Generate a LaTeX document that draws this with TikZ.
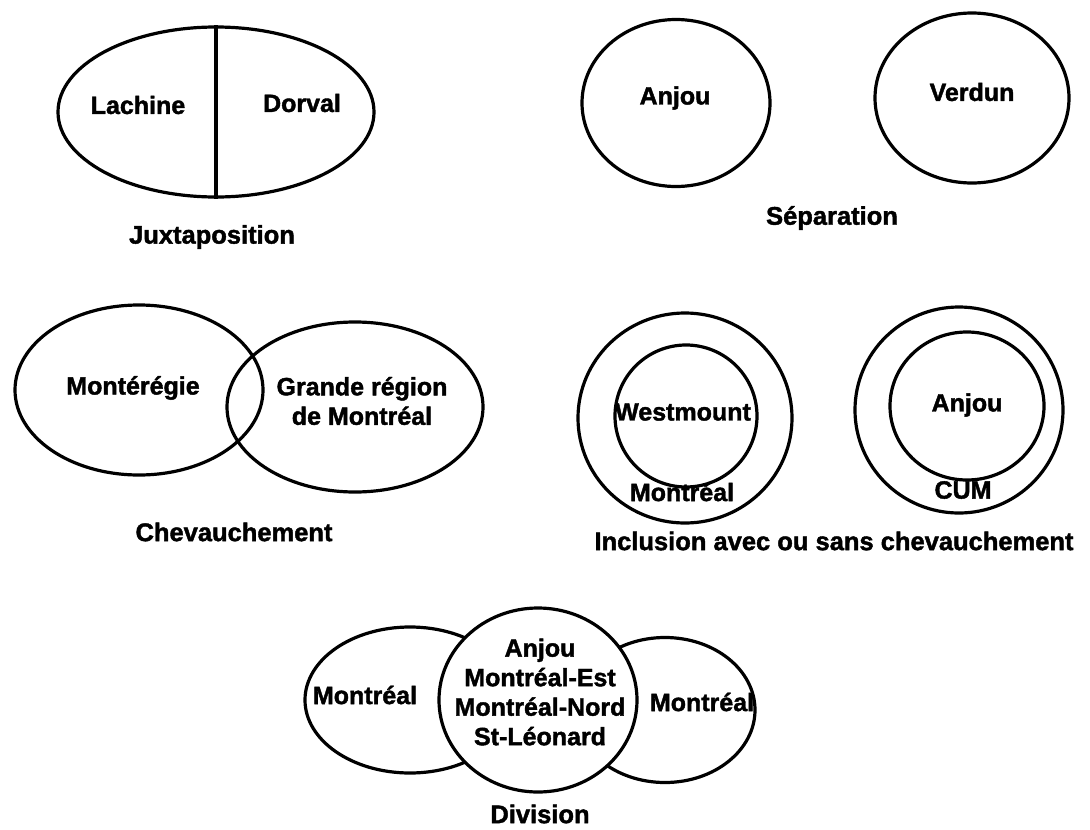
\documentclass[tikz,border=0pt]{standalone}
\usepackage{fontspec}
\setmainfont{Liberation Sans}[BoldFeatures={FakeBold=1.6}]
\usetikzlibrary{shapes.geometric}
\begin{document}
\begin{tikzpicture}[x=1pt,y=-1pt,
  ell/.style n args={2}{ellipse, draw, line width=3.2pt, minimum width=#1, minimum height=#2, inner sep=0pt},
  lab/.style={font=\fontsize{25}{29.5}\selectfont\bfseries, align=center, inner sep=0pt},
  capt/.style={font=\fontsize{25.5}{30}\selectfont\bfseries, inner sep=0pt},
  sep/.style={line width=3.2pt}]
\useasboundingbox (0,0) rectangle (1090,830);
% Juxtaposition
\node[ell={316pt}{170pt}] (jx) at (216,112) {};
\draw[sep] (jx.north) -- (jx.south);
\node[lab] (lachine) at (138,105) {Lachine};
\node[lab] (dorval) at (302,103) {Dorval};
\node[capt] (cjx) at (212,237) {Juxtaposition};
% Separation
\node[ell={188pt}{167pt}] (sa) at (676,103) {};
\node[ell={194pt}{170pt}] (sv) at (972,98) {};
\node[lab] (anjou1) at (675,98) {Anjou};
\node[lab] (verdun) at (972,92) {Verdun};
\node[capt] (csep) at (832,218) {Séparation};
% Chevauchement
\node[ell={248pt}{170pt}] (cm) at (139,390) {};
\node[ell={256pt}{170pt}] (cg) at (355,407) {};
\node[lab] (monteregie) at (133,388) {Montérégie};
\node[lab] (grande) at (362,401) {Grande région\\de Montréal};
\node[capt] (cchev) at (234,532) {Chevauchement};
% Inclusion
\node[ell={214pt}{210pt}] (wo) at (685,418) {};
\node[ell={142pt}{142pt}] (wi) at (686,416) {};
\node[lab] (westmount) at (683,412) {Westmount};
\node[lab] (montreal1) at (682,492) {Montréal};
\node[ell={208pt}{206pt}] (co) at (959,410) {};
\node[ell={154pt}{148pt}] (ci) at (967,406) {};
\node[lab] (anjou2) at (967,405) {Anjou};
\node[lab] (cum) at (963,490) {CUM};
\node[capt] (cinc) at (834,541) {Inclusion avec ou sans chevauchement};
% Division
\node[ell={210pt}{146pt}] (dl) at (410,700) {};
\node[ell={180pt}{145pt}] (dr) at (665,710) {};
\node[ell={198pt}{184pt}, fill=white] (dc) at (538,700) {};
\node[lab] (montreal2) at (365,695) {Montréal};
\node[lab] (montreal3) at (702,702) {Montréal};
\node[lab] (centre) at (540,692) {Anjou\\Montréal-Est\\Montréal-Nord\\St-Léonard};
\node[capt] (cdiv) at (540,814) {Division};
\end{tikzpicture}
\end{document}
